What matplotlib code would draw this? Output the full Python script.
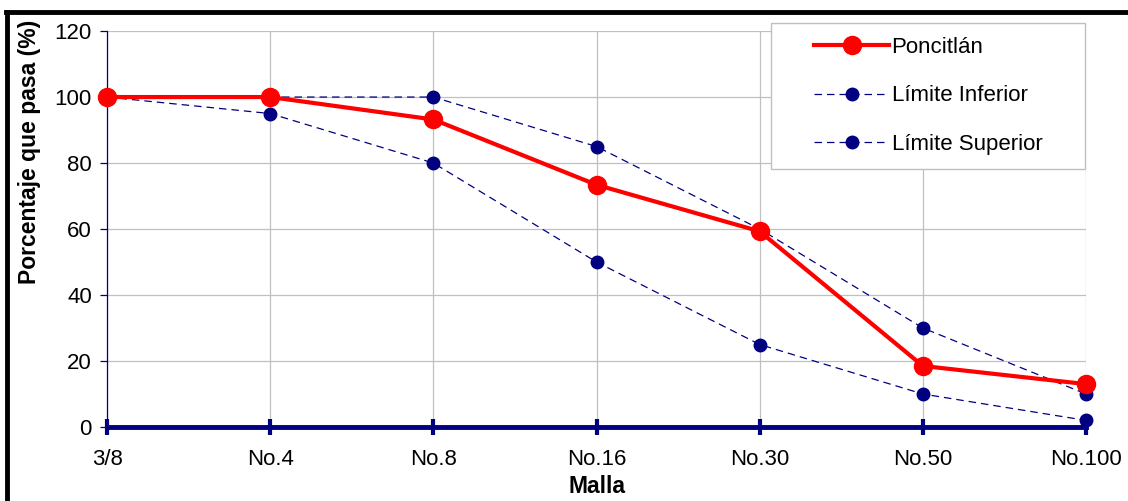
import numpy as np
import matplotlib.pyplot as plt
from matplotlib.lines import Line2D
from matplotlib.patches import Rectangle

plt.rcParams['font.family'] = ['Liberation Sans', 'DejaVu Sans']

# data
mallas = ['3/8', 'No.4', 'No.8', 'No.16', 'No.30', 'No.50', 'No.100']
poncitlan = [100, 100, 93.2, 73.4, 59.3, 18.5, 13]
lim_inferior = [100, 100, 100, 85, 60, 30, 10]
lim_superior = [100, 95, 80, 50, 25, 10, 2]

navy = '#000080'

fig = plt.figure(figsize=(11.28, 5.01), dpi=100)
ax = fig.add_axes([0.0949, 0.1477, 0.8679, 0.7903])

x = np.arange(len(mallas))

l_inf, = ax.plot(x, lim_inferior, '--', color=navy, lw=0.9, dashes=(6, 4),
                 marker='o', ms=9, mfc=navy, mec=navy, label='Límite Inferior',
                 zorder=3, clip_on=False)
l_sup, = ax.plot(x, lim_superior, '--', color=navy, lw=0.9, dashes=(6, 4),
                 marker='o', ms=9, mfc=navy, mec=navy, label='Límite Superior',
                 zorder=3, clip_on=False)
l_pon, = ax.plot(x, poncitlan, '-', color='#ff0000', lw=3,
                 marker='o', ms=13, mfc='#ff0000', mec='#ff0000', label='Poncitlán',
                 zorder=4, clip_on=False)

ax.set_xlim(0, len(mallas) - 1)
ax.set_ylim(0, 120)
ax.set_yticks(range(0, 121, 20))
ax.set_xticks(x)
ax.set_xticklabels(mallas)

ax.grid(True, color='#c0c0c0', lw=0.9)
ax.set_axisbelow(True)

for s in ['top', 'right']:
    ax.spines[s].set_visible(False)
ax.spines['left'].set_color(navy)
ax.spines['left'].set_linewidth(0.9)
ax.spines['bottom'].set_color(navy)
ax.spines['bottom'].set_linewidth(3.5)
ax.spines['bottom'].set_zorder(5)

ax.tick_params(axis='y', direction='out', length=5, color=navy, width=0.9,
               labelsize=16, pad=6)
ax.tick_params(axis='x', direction='inout', length=12, color=navy, width=3,
               labelsize=16, pad=10)

ax.set_xlabel('Malla', fontsize=16.5, fontweight='bold', labelpad=3.5)
ax.set_ylabel('Porcentaje que pasa (%)', fontsize=16.5, fontweight='bold')
# the y label sits above the centre in the original
ax.yaxis.set_label_coords(-0.0675, 0.694)

# legend box drawn separately, legend entries centred inside it
fig.add_artist(Rectangle((0.6835, 0.6627), 0.2784, 0.2913, transform=fig.transFigure,
                         facecolor='white', edgecolor='#c0c0c0', lw=1.0, zorder=4))
fig.legend([l_pon, l_inf, l_sup], ['Poncitlán', 'Límite Inferior', 'Límite Superior'],
           loc='center', bbox_to_anchor=(0.8227, 0.8084), bbox_transform=fig.transFigure,
           fontsize=16, frameon=False, handlelength=3.4, labelspacing=1.25,
           handletextpad=0.1, borderpad=0.0)

# partial black border of the original frame
fig.add_artist(Line2D([0.005, 1.0], [0.976, 0.976], color='black', lw=3.5))
fig.add_artist(Line2D([0.0062, 0.0062], [0.0, 0.976], color='black', lw=3.5))

fig.savefig('out.png', dpi=100)
